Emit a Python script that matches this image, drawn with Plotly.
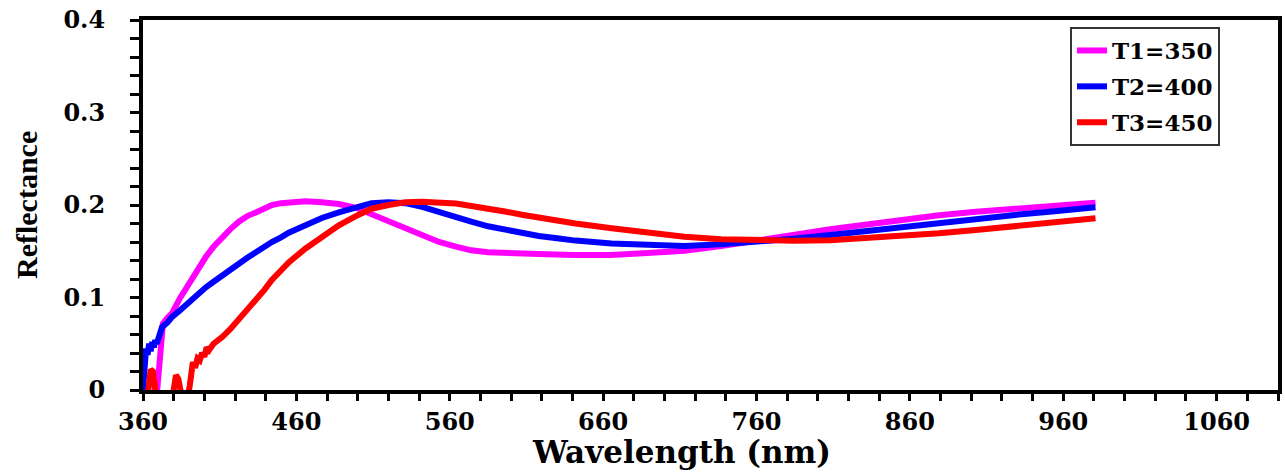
import plotly.graph_objects as go

# ---- data ----
t1_wl = [369, 370, 371, 372, 373, 376, 379, 384, 390, 395, 401, 406, 411.5, 417, 422.5, 428,
         433.6, 439, 444, 450, 455, 466, 476.6, 487.7, 498.8, 509, 520, 531, 542, 553, 564,
         574, 585, 596, 618, 641, 665, 689, 713, 737, 761, 784, 808, 832, 856, 879, 903, 927,
         951, 966, 981]
t1_r = [-0.005, 0.02, 0.045, 0.062, 0.072, 0.078, 0.083, 0.099, 0.116, 0.130, 0.144, 0.155,
        0.165, 0.174, 0.182, 0.188, 0.192, 0.197, 0.200, 0.202, 0.203, 0.204, 0.203, 0.201,
        0.197, 0.190, 0.183, 0.175, 0.168, 0.160, 0.155, 0.151, 0.149, 0.148, 0.147, 0.146,
        0.146, 0.148, 0.1506, 0.1557, 0.162, 0.168, 0.1737, 0.179, 0.1845, 0.189, 0.1928,
        0.196, 0.199, 0.201, 0.2025]

t2_wl = [360, 361, 362, 363, 364, 365, 366, 367, 368, 369, 370, 371, 372.4, 376, 379, 384,
         390, 395, 401, 406, 411.5, 417, 422.5, 428, 433.6, 439, 444, 450, 455, 466, 476.6,
         487.7, 498.8, 509, 520, 531, 542, 553, 564, 574, 585, 596, 607, 618, 630, 642, 665.5,
         689, 713, 737, 760.7, 784, 808, 832, 855.8, 879, 903, 927, 951, 966, 981]
t2_r = [0.0, 0.03, 0.045, 0.038, 0.05, 0.042, 0.052, 0.046, 0.054, 0.05, 0.056, 0.062, 0.068,
        0.073, 0.079, 0.086, 0.095, 0.103, 0.111, 0.117, 0.124, 0.131, 0.137, 0.143, 0.149,
        0.155, 0.160, 0.165, 0.170, 0.178, 0.186, 0.192, 0.198, 0.202, 0.203, 0.202, 0.198,
        0.192, 0.187, 0.182, 0.177, 0.173, 0.1695, 0.1665, 0.164, 0.1615, 0.1585, 0.1564,
        0.1557, 0.1575, 0.160, 0.1635, 0.1675, 0.172, 0.1766, 0.181, 0.1856, 0.189, 0.1928,
        0.195, 0.1975]

t3_wl = [362, 363.5, 365, 366.5, 368, 370, 378, 380, 381.5, 383, 385, 389, 390.5, 391.5,
         392.5, 394, 395.5, 397, 398.5, 400, 401.5, 403, 406, 409, 411.5, 417, 422.5, 428,
         433.6, 439, 444, 450, 455, 466, 476.6, 487.7, 498.8, 509, 520, 531, 542, 553, 564,
         574, 585, 596, 607, 618, 630, 642, 665.5, 689, 713, 737, 760.7, 784, 808, 832, 855.8,
         879, 903, 927, 951, 966, 981]
t3_r = [-0.01, 0.0, 0.022, 0.02, 0.0, -0.01, -0.01, 0.0, 0.016, 0.012, -0.005, -0.01, 0.005,
        0.028, 0.03, 0.024, 0.034, 0.032, 0.04, 0.036, 0.046, 0.043, 0.05, 0.054, 0.057,
        0.066, 0.076, 0.086, 0.097, 0.108, 0.119, 0.129, 0.138, 0.153, 0.165, 0.178, 0.188,
        0.196, 0.200, 0.203, 0.2035, 0.203, 0.2015, 0.199, 0.1965, 0.193, 0.1895, 0.186,
        0.183, 0.180, 0.1748, 0.170, 0.1657, 0.163, 0.1614, 0.1614, 0.162, 0.164, 0.1665,
        0.1695, 0.173, 0.177, 0.181, 0.1835, 0.1856]

series_names = ["T1=350", "T2=400", "T3=450"]
series_colors = ["#FF00FF", "#0000FF", "#FF0000"]

x_title = "Wavelength (nm)"
y_title = "Reflectance"

# ---- figure ----
W, H = 1285, 473
L, T = 143, 20
PW, PH = 1135, 370

fig = go.Figure()
for name, color, wl, r in zip(series_names, series_colors,
                              [t1_wl, t2_wl, t3_wl], [t1_r, t2_r, t3_r]):
    fig.add_trace(go.Scatter(x=wl, y=r, mode="lines", name=name, legendgroup=name,
                             line=dict(color=color, width=6)))

fig.update_layout(
    width=W, height=H,
    margin=dict(l=L, r=W - L - PW, t=T, b=H - T - PH, pad=0, autoexpand=False),
    paper_bgcolor="white", plot_bgcolor="white",
    showlegend=True,
    legend=dict(x=(1070 - 143) / PW, y=(390 - 27) / PH, xanchor="left", yanchor="top",
                bgcolor="white", bordercolor="#333333", borderwidth=2,
                font=dict(family="DejaVu Serif", size=23, color="black", weight="bold"),
                traceorder="grouped", tracegroupgap=3),
    xaxis=dict(range=[360, 1100], tick0=360, dtick=100, ticks="outside", ticklen=7,
               tickwidth=3, tickcolor="black", showline=True, linewidth=4, linecolor="black",
               mirror=True, showgrid=False, zeroline=False, ticklabeloverflow="allow",
               automargin=False,
               tickfont=dict(family="DejaVu Serif", size=24, color="black", weight="bold"),
               minor=dict(tick0=360, dtick=20, ticks="outside", ticklen=7, tickwidth=3,
                          tickcolor="black", showgrid=False)),
    yaxis=dict(range=[0, 0.4], tick0=0, dtick=0.1, ticks="outside", ticklen=9,
               tickwidth=3, tickcolor="black", showline=True, linewidth=4, linecolor="black",
               mirror=True, showgrid=False, zeroline=False, ticklabelstandoff=20,
               ticklabeloverflow="allow", automargin=False,
               tickfont=dict(family="DejaVu Serif", size=24, color="black", weight="bold"),
               minor=dict(tick0=0, dtick=0.02, ticks="outside", ticklen=9, tickwidth=3,
                          tickcolor="black", showgrid=False)),
    annotations=[
        dict(text=x_title, xref="paper", yref="paper", x=(681 - 143) / PW,
             y=(390 - 452) / PH, xanchor="center", yanchor="middle", showarrow=False,
             font=dict(family="DejaVu Serif", size=31, color="black", weight="bold")),
        dict(text=y_title, xref="paper", yref="paper", x=(26 - 143) / PW, y=0.5,
             xanchor="center", yanchor="middle", showarrow=False, textangle=-90,
             font=dict(family="Liberation Serif", size=30, color="black", weight="bold")),
    ],
)

# remove the page's default body margin so the figure fills the window exactly
fig.write_html("out.html", config={"displayModeBar": False},
               post_script="document.body.style.margin='0';document.body.style.overflow='hidden';")
